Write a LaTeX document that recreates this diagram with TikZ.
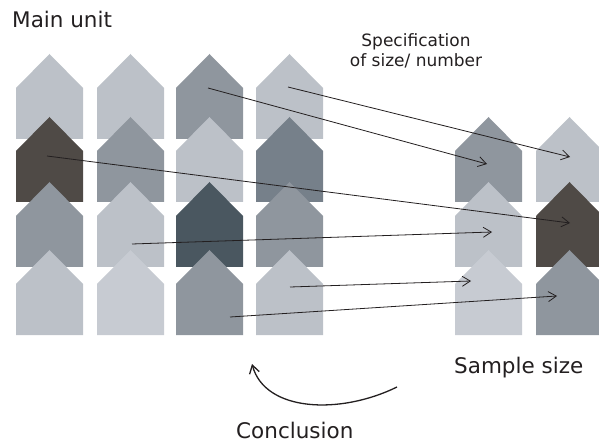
\documentclass[tikz,border=0pt]{standalone}
\usepackage{fontspec}
\setmainfont{DejaVu Sans}
\usetikzlibrary{arrows.meta}
\definecolor{hlight}{HTML}{BCC1C8}
\definecolor{hlighter}{HTML}{C7CBD2}
\definecolor{hmed}{HTML}{8F969E}
\definecolor{hslate}{HTML}{76808A}
\definecolor{hbrown}{HTML}{4F4A46}
\definecolor{hdark}{HTML}{4A5760}
\definecolor{ink}{HTML}{231F20}
\newcommand\hhouse[4]{%
  \fill[#4] (#2,#3) -- ++(0,-51) -- ++(33.5,-34) -- ++(33.5,34) -- ++(0,51) -- cycle;
  \coordinate (#1) at ({#2+33.5},{#3-42});}
\tikzset{
  link/.style={draw=ink, line width=0.8pt, -{Straight Barb[length=8pt,width=10pt]}},
  curvearrow/.style={draw=ink, line width=1.3pt, -{Straight Barb[length=8pt,width=10pt]}},
  lbl/.style={text=ink, inner sep=0pt, font=\fontsize{21.5}{25}\selectfont},
  slbl/.style={text=ink, inner sep=0pt, align=center, font=\fontsize{17}{20}\selectfont}
}
\begin{document}
\begin{tikzpicture}[x=1pt,y=-1pt]
\useasboundingbox (0,0) rectangle (599,443);
% left grid
\hhouse{L11}{16}{139}{hlight}
\hhouse{L12}{97}{139}{hlight}
\hhouse{L13}{176}{139}{hmed}
\hhouse{L14}{256}{139}{hlight}
\hhouse{L21}{16}{202}{hbrown}
\hhouse{L22}{97}{202}{hmed}
\hhouse{L23}{176}{202}{hlight}
\hhouse{L24}{256}{202}{hslate}
\hhouse{L31}{16}{267}{hmed}
\hhouse{L32}{97}{267}{hlight}
\hhouse{L33}{176}{267}{hdark}
\hhouse{L34}{256}{267}{hmed}
\hhouse{L41}{16}{335}{hlight}
\hhouse{L42}{97}{335}{hlighter}
\hhouse{L43}{176}{335}{hmed}
\hhouse{L44}{256}{335}{hlight}
% right grid
\hhouse{R11}{455}{202}{hmed}
\hhouse{R12}{536}{202}{hlight}
\hhouse{R21}{455}{267}{hlight}
\hhouse{R22}{536}{267}{hbrown}
\hhouse{R31}{455}{335}{hlighter}
\hhouse{R32}{536}{335}{hmed}
% arrow ends
\coordinate (s1) at (288,87);  \coordinate (t1) at (570,157);
\coordinate (s2) at (208,88);  \coordinate (t2) at (487,164);
\coordinate (s3) at (47,156);  \coordinate (t3) at (570,223);
\coordinate (s4) at (132,244); \coordinate (t4) at (492,232);
\coordinate (s5) at (290,287); \coordinate (t5) at (471,281);
\coordinate (s6) at (230,317); \coordinate (t6) at (557,296);
\draw[link] (s1) -- (t1);
\draw[link] (s2) -- (t2);
\draw[link] (s3) -- (t3);
\draw[link] (s4) -- (t4);
\draw[link] (s5) -- (t5);
\draw[link] (s6) -- (t6);
% curved arrow
\coordinate (c0) at (397,387);
\coordinate (c1) at (252,364);
\draw[curvearrow] (c0) .. controls (340,415) and (265,412) .. (c1);
% labels
\node[lbl, anchor=base west] (main) at (12,28) {Main unit};
\node[slbl, anchor=base] (spec) at (416,67) {Specification\\of size/ number};
\node[lbl, anchor=base west] (sample) at (454,373) {Sample size};
\node[lbl, anchor=base west] (concl) at (236,438) {Conclusion};
\end{tikzpicture}
\end{document}
